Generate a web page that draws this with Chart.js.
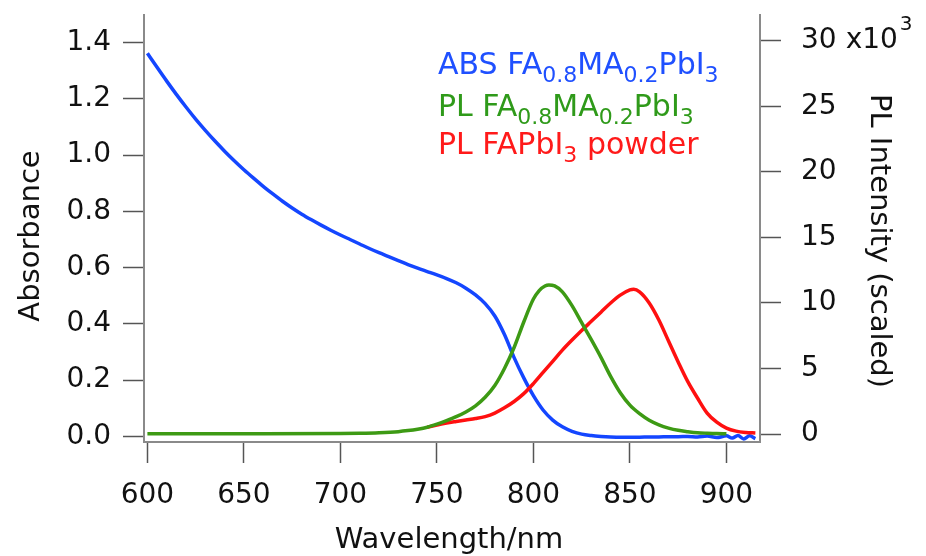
<!DOCTYPE html>
<html>
<head>
<meta charset="utf-8">
<script src="https://cdn.jsdelivr.net/npm/chart.js@4.4.1/dist/chart.umd.min.js"></script>
<style>
  html, body { margin: 0; padding: 0; background: #ffffff; }
  #wrap { width: 926px; height: 556px; }
</style>
</head>
<body>
<div id="wrap"><canvas id="c" width="926" height="556"></canvas></div>
<script>
// ---------- DATA ----------
const absWavelength = [600,605,610,615,620,625,630,635,640,645,650,655,660,665,670,675,680,685,690,695,700,705,710,715,720,725,730,735,740,745,750,755,760,765,770,775,780,785,790,795,800,805,810,815,820,825,830,835,840,845,850,855,860,865,870,875,880,885,890,895,900,903,906,909,912,915];
const absValues = [1.362,1.312,1.263,1.216,1.171,1.128,1.088,1.050,1.014,0.980,0.948,0.918,0.889,0.862,0.836,0.812,0.790,0.770,0.751,0.733,0.716,0.700,0.684,0.668,0.653,0.639,0.625,0.611,0.598,0.586,0.574,0.561,0.546,0.527,0.503,0.472,0.428,0.362,0.28,0.208,0.145,0.094,0.058,0.034,0.018,0.008,0.003,0.0,-0.002,-0.003,-0.003,-0.003,-0.002,-0.002,-0.001,-0.001,0.0,-0.002,0.001,-0.004,0.002,-0.006,0.003,-0.009,0.002,-0.008];

const plMixWavelength = [600,650,700,710,720,730,735,740,745,750,755,760,765,770,775,780,785,790,795,800,803,806,808,811,815,820,825,830,835,840,845,850,855,860,865,870,875,880,885,890,895,900];
const plMixValues = [0.02,0.02,0.04,0.06,0.1,0.18,0.26,0.37,0.52,0.75,1.02,1.32,1.68,2.15,2.8,3.7,5.0,6.6,8.55,10.3,10.95,11.3,11.38,11.3,10.85,9.8,8.5,7.2,5.85,4.4,3.15,2.2,1.55,1.05,0.7,0.45,0.28,0.18,0.1,0.06,0.03,0.02];

const plPowderWavelength = [745,750,755,760,765,770,775,780,785,790,795,800,805,810,815,820,825,830,835,840,845,850,852,855,860,865,870,875,880,885,890,895,900,905,910,915];
const plPowderValues = [0.52,0.68,0.84,0.96,1.07,1.18,1.33,1.6,2.0,2.48,3.08,3.85,4.7,5.55,6.4,7.17,7.9,8.6,9.3,10.0,10.6,11.0,11.05,10.85,10.0,8.7,7.1,5.5,4.0,2.75,1.6,0.9,0.45,0.22,0.12,0.08];

const xTicks = [600,650,700,750,800,850,900];
const yTicks = [0,0.2,0.4,0.6,0.8,1.0,1.2,1.4];
const y2Ticks = [0,5,10,15,20,25,30];

const seriesNames = ['ABS FA0.8MA0.2PbI3','PL FA0.8MA0.2PbI3','PL FAPbI3 powder'];

// ---------- STYLE ----------
const BLUE = '#1446ff', GREEN = '#3d9a14', RED = '#ff1010';
const FONT = 'DejaVu Sans';

function pts(xs, ys) { return xs.map((x, i) => ({ x: x, y: ys[i] })); }

// legend with subscripts: [text, isSubscript]
const legendLines = [
  { color: '#1f50ff', baseline: 74, parts: [['ABS FA',0],['0.8',1],['MA',0],['0.2',1],['PbI',0],['3',1]] },
  { color: '#2f9a1a', baseline: 116, parts: [['PL FA',0],['0.8',1],['MA',0],['0.2',1],['PbI',0],['3',1]] },
  { color: '#ff1a1a', baseline: 154, parts: [['PL FAPbI',0],['3',1],[' powder',0]] }
];

const decorPlugin = {
  id: 'decor',
  afterDraw(chart) {
    const ctx = chart.ctx;
    ctx.save();
    // legend
    ctx.textAlign = 'left';
    ctx.textBaseline = 'alphabetic';
    legendLines.forEach(line => {
      let x = 438;
      ctx.fillStyle = line.color;
      line.parts.forEach(([t, sub]) => {
        ctx.font = sub ? `22px "${FONT}"` : `30px "${FONT}"`;
        ctx.fillText(t, x, line.baseline + (sub ? 8 : 0));
        x += ctx.measureText(t).width;
      });
    });
    // axis titles
    ctx.fillStyle = '#111';
    ctx.font = `29px "${FONT}"`;
    ctx.textAlign = 'center';
    ctx.textBaseline = 'middle';
    ctx.fillText('Wavelength/nm', 449, 540);
    ctx.save();
    ctx.translate(31, 236);
    ctx.rotate(-Math.PI / 2);
    ctx.fillText('Absorbance', 0, 0);
    ctx.restore();
    ctx.save();
    ctx.translate(879, 241);
    ctx.rotate(Math.PI / 2);
    ctx.fillText('PL Intensity (scaled)', 0, 0);
    ctx.restore();
    // x10^3 multiplier next to the top right tick
    const y2 = chart.scales.y2;
    const yTop = y2.getPixelForValue(30);
    ctx.font = `28px "${FONT}"`;
    const labelX = y2.left + 21 + 20;
    const w30 = ctx.measureText('30').width;
    ctx.textAlign = 'left';
    ctx.fillText('x10', labelX + w30 + 9, yTop);
    const wx = ctx.measureText('x10').width;
    ctx.font = `20px "${FONT}"`;
    ctx.fillText('3', labelX + w30 + 9 + wx + 2, yTop - 16);
    ctx.restore();
  }
};

const axisCommon = {
  border: { display: true, color: '#8a8a8a', width: 2 },
  grid: { display: true, drawOnChartArea: false, drawTicks: true, tickLength: 21, tickColor: '#555', tickWidth: 1.5 },
  ticks: { color: '#111', font: { family: FONT, size: 28 } }
};

function noPad(s) { s.paddingTop = 0; s.paddingBottom = 0; s.paddingLeft = 0; s.paddingRight = 0; }

new Chart(document.getElementById('c'), {
  type: 'line',
  data: {
    datasets: [
      { label: seriesNames[1], data: pts(plMixWavelength, plMixValues), yAxisID: 'y2', borderColor: GREEN, order: 1 },
      { label: seriesNames[2], data: pts(plPowderWavelength, plPowderValues), yAxisID: 'y2', borderColor: RED, order: 2 },
      { label: seriesNames[0], data: pts(absWavelength, absValues), yAxisID: 'y', borderColor: BLUE, order: 3 }
    ]
  },
  options: {
    responsive: false,
    animation: false,
    devicePixelRatio: 1,
    layout: { padding: { top: 15, left: 0, right: 0, bottom: 0 } },
    elements: {
      line: { borderWidth: 3.5, cubicInterpolationMode: 'monotone', fill: false },
      point: { radius: 0 }
    },
    plugins: { legend: { display: false }, tooltip: { enabled: false } },
    scales: {
      x: {
        type: 'linear', position: 'bottom', min: 598.24, max: 917.4,
        border: axisCommon.border, grid: axisCommon.grid,
        ticks: { ...axisCommon.ticks, padding: 16, maxRotation: 0, callback: v => String(v) },
        afterBuildTicks: s => { s.ticks = xTicks.map(v => ({ value: v })); },
        afterFit: s => { s.height = 114; noPad(s); }
      },
      y: {
        type: 'linear', position: 'left', min: -0.0199, max: 1.498,
        border: axisCommon.border, grid: axisCommon.grid,
        ticks: { ...axisCommon.ticks, padding: 12, callback: v => Number(v).toFixed(1) },
        afterBuildTicks: s => { s.ticks = yTicks.map(v => ({ value: v })); },
        afterFit: s => { s.width = 144; noPad(s); }
      },
      y2: {
        type: 'linear', position: 'right', min: -0.61, max: 31.98,
        border: axisCommon.border, grid: axisCommon.grid,
        ticks: { ...axisCommon.ticks, padding: 20, callback: v => String(v) },
        afterBuildTicks: s => { s.ticks = y2Ticks.map(v => ({ value: v })); },
        afterFit: s => { s.width = 166; noPad(s); }
      }
    }
  },
  plugins: [decorPlugin]
});
</script>
</body>
</html>
